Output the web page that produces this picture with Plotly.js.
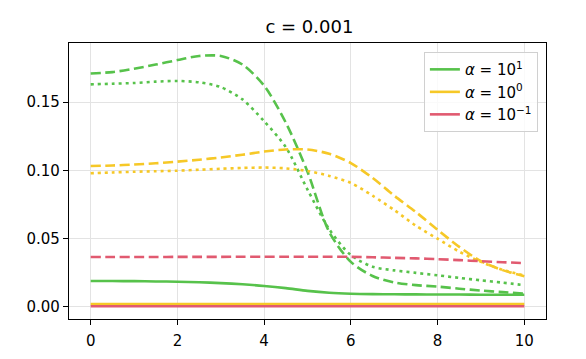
<!DOCTYPE html>
<html>
<head>
<meta charset="utf-8">
<script src="https://cdn.plot.ly/plotly-3.0.1.min.js"></script>
<style>
  html, body { margin: 0; padding: 0; background: #fff; }
  #chart { width: 586px; height: 359px; }
</style>
</head>
<body>
<div id="chart"></div>
<script>
// x positions shared by every curve
const xs = [0, 0.5, 1, 1.5, 2, 2.5, 3, 3.5, 4, 4.5, 5, 5.5, 6, 6.5, 7, 7.5, 8, 8.5, 9, 9.5, 10];

// alpha = 10^1 (green)
const a1Solid  = [0.0190, 0.0190, 0.0189, 0.0187, 0.0185, 0.0181, 0.0175, 0.0166, 0.0154, 0.0138, 0.0118, 0.0104, 0.0097, 0.0094, 0.0093, 0.0092, 0.0091, 0.0091, 0.0090, 0.0090, 0.0090];
const a1Dashed = [0.1710, 0.1720, 0.1745, 0.1775, 0.1808, 0.1838, 0.1838, 0.1775, 0.1620, 0.1350, 0.0990, 0.0550, 0.0330, 0.0227, 0.0180, 0.0160, 0.0149, 0.0134, 0.0120, 0.0109, 0.0098];
const a1Dotted = [0.1630, 0.1635, 0.1640, 0.1650, 0.1655, 0.1645, 0.1610, 0.1520, 0.1360, 0.1170, 0.0860, 0.0570, 0.0380, 0.0295, 0.0268, 0.0250, 0.0232, 0.0213, 0.0195, 0.0178, 0.0160];

// alpha = 10^0 (yellow)
const a0Solid  = [0.0022, 0.0022, 0.0022, 0.0022, 0.0022, 0.0022, 0.0022, 0.0022, 0.0022, 0.0022, 0.0022, 0.0022, 0.0022, 0.0022, 0.0022, 0.0022, 0.0022, 0.0022, 0.0022, 0.0022, 0.0022];
const a0Dashed = [0.1032, 0.1036, 0.1043, 0.1052, 0.1064, 0.1078, 0.1095, 0.1115, 0.1138, 0.1153, 0.1153, 0.1122, 0.1054, 0.0945, 0.0815, 0.0695, 0.0565, 0.0440, 0.0335, 0.0270, 0.0225];
const a0Dotted = [0.0979, 0.0985, 0.0990, 0.0994, 0.0998, 0.1005, 0.1012, 0.1018, 0.1021, 0.1015, 0.0996, 0.0960, 0.0908, 0.0815, 0.0710, 0.0595, 0.0500, 0.0405, 0.0330, 0.0272, 0.0230];

// alpha = 10^-1 (red) - the dotted one sits right under the dashed one
const am1Solid  = [0.0005, 0.0005, 0.0005, 0.0005, 0.0005, 0.0005, 0.0005, 0.0005, 0.0005, 0.0005, 0.0005, 0.0005, 0.0005, 0.0005, 0.0005, 0.0005, 0.0005, 0.0005, 0.0005, 0.0005, 0.0005];
const am1Dashed = [0.0366, 0.0366, 0.0366, 0.0366, 0.0367, 0.0367, 0.0367, 0.0368, 0.0368, 0.0368, 0.0368, 0.0368, 0.0367, 0.0364, 0.0360, 0.0356, 0.0350, 0.0343, 0.0335, 0.0328, 0.0321];

const green = '#57c24b', yellow = '#f6c827', red = '#e15a70';
const dashStyle = '10px,4.5px', dotStyle = '3px,4px';

function line(y, color, dash, name, legend) {
    return {
        x: xs, y: y, type: 'scatter', mode: 'lines',
        line: {color: color, width: 2.6, dash: dash, shape: 'spline', smoothing: 0.8},
        name: name, showlegend: legend, hoverinfo: 'skip'
    };
}

const data = [
    line(a1Dashed, green, dashStyle, '', false),
    line(a1Dotted, green, dotStyle, '', false),
    line(a0Dashed, yellow, dashStyle, '', false),
    line(a0Dotted, yellow, dotStyle, '', false),
    line(am1Dashed, red, dashStyle, '', false),
    line(a1Solid, green, 'solid', '<i>α</i> = 10<sup>1</sup>', true),
    line(a0Solid, yellow, 'solid', '<i>α</i> = 10<sup>0</sup>', true),
    line(am1Solid, red, 'solid', '<i>α</i> = 10<sup>−1</sup>', true)
];

const axisCommon = {
    showline: true, linecolor: '#000', linewidth: 1.2, mirror: true,
    ticks: 'outside', ticklen: 5, tickwidth: 1, tickcolor: '#000',
    showgrid: true, gridcolor: '#e3e3e3', gridwidth: 1,
    zeroline: false, tickfont: {family: 'DejaVu Sans', size: 15, color: '#000'}
};

const layout = {
    width: 586, height: 359,
    margin: {l: 69, r: 40, t: 43, b: 40},
    paper_bgcolor: '#fff', plot_bgcolor: '#fff',
    title: {text: 'c = 0.001', font: {family: 'DejaVu Sans', size: 18, color: '#000'}, x: 0.528, xanchor: 'center', y: 0.925, yanchor: 'middle'},
    xaxis: Object.assign({}, axisCommon, {range: [-0.5, 10.5], tickvals: [0, 2, 4, 6, 8, 10], ticklabelstandoff: 3}),
    yaxis: Object.assign({}, axisCommon, {range: [-0.0088, 0.1933], tickvals: [0, 0.05, 0.1, 0.15], tickformat: '.2f'}),
    legend: {
        x: 0.983, xanchor: 'right', y: 0.967, yanchor: 'top',
        bgcolor: 'rgba(255,255,255,0.8)', bordercolor: '#d0d0d0', borderwidth: 1,
        font: {family: 'DejaVu Sans', size: 15, color: '#000'},
        tracegroupgap: 0, itemwidth: 30
    },
    showlegend: true
};

Plotly.newPlot('chart', data, layout, {staticPlot: true});
</script>
</body>
</html>
